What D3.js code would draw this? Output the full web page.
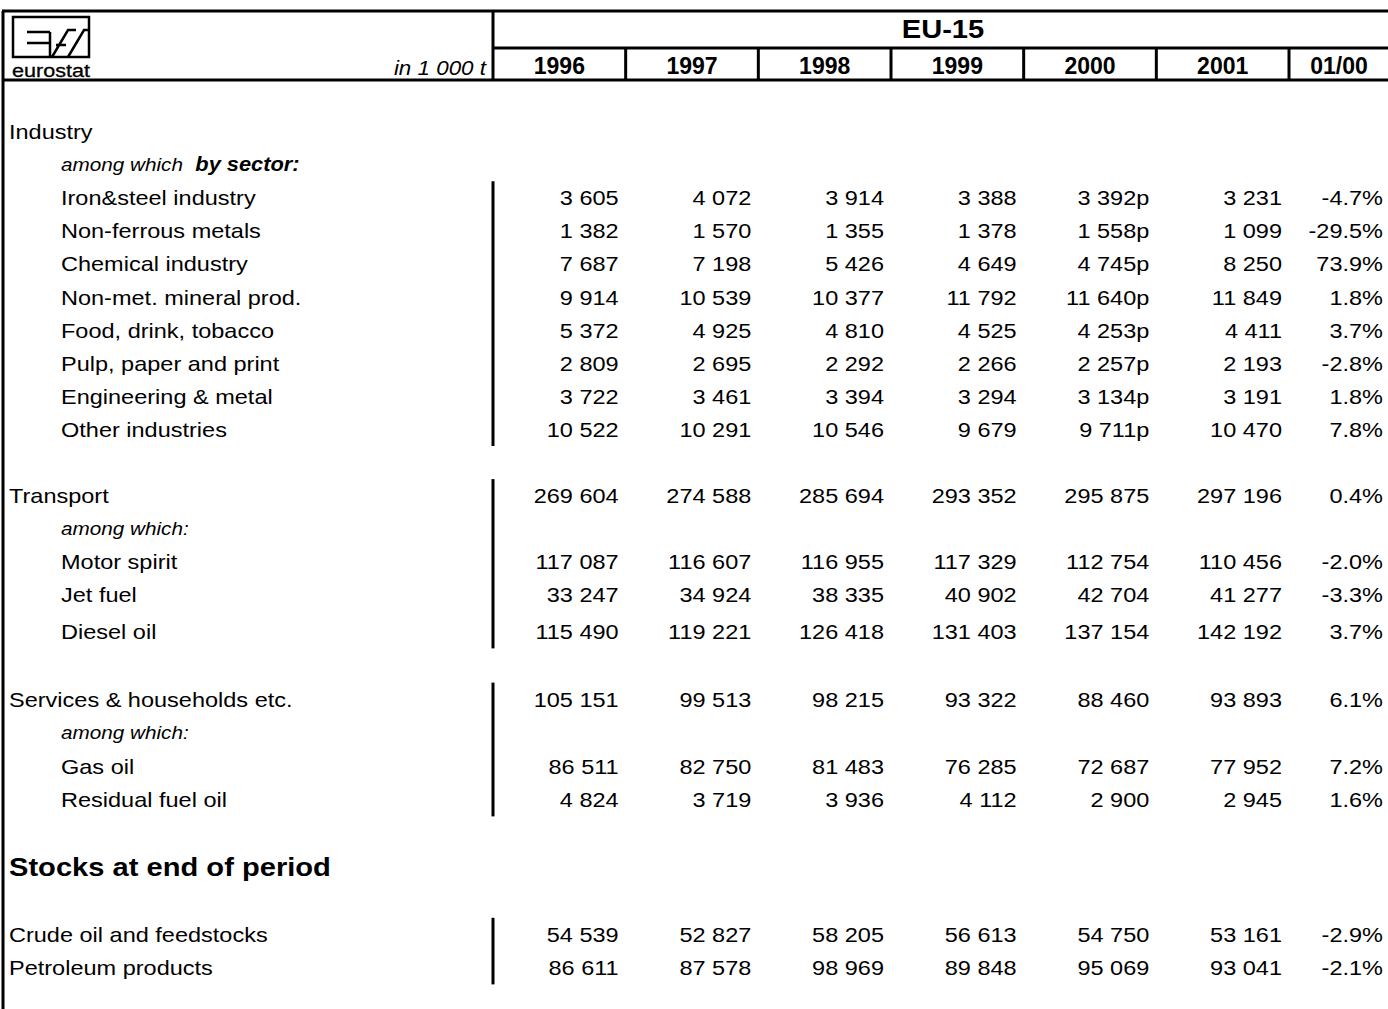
<!DOCTYPE html>
<html>
<head>
<meta charset="utf-8">
<script src="https://cdn.jsdelivr.net/npm/d3@7"></script>
<style>
  html, body { margin: 0; padding: 0; background: #fff; }
</style>
</head>
<body>
<div id="chart"></div>
<script>
// ── Table data (EU-15, in 1 000 t)
const years = ['1996', '1997', '1998', '1999', '2000', '2001'];
const changeLabel = '01/00';

const industryLabels = [
  'Iron&steel industry', 'Non-ferrous metals', 'Chemical industry', 'Non-met. mineral prod.',
  'Food, drink, tobacco', 'Pulp, paper and print', 'Engineering & metal', 'Other industries'
];
const industryValues = [
  [3605, 4072, 3914, 3388, 3392, 3231],
  [1382, 1570, 1355, 1378, 1558, 1099],
  [7687, 7198, 5426, 4649, 4745, 8250],
  [9914, 10539, 10377, 11792, 11640, 11849],
  [5372, 4925, 4810, 4525, 4253, 4411],
  [2809, 2695, 2292, 2266, 2257, 2193],
  [3722, 3461, 3394, 3294, 3134, 3191],
  [10522, 10291, 10546, 9679, 9711, 10470]
];
const industryChange = [-4.7, -29.5, 73.9, 1.8, 3.7, -2.8, 1.8, 7.8];
const industryProvisional = ['2000'];

const transportTotal = [269604, 274588, 285694, 293352, 295875, 297196];
const transportChange = 0.4;
const transportLabels = ['Motor spirit', 'Jet fuel', 'Diesel oil'];
const transportValues = [
  [117087, 116607, 116955, 117329, 112754, 110456],
  [33247, 34924, 38335, 40902, 42704, 41277],
  [115490, 119221, 126418, 131403, 137154, 142192]
];
const transportSubChange = [-2.0, -3.3, 3.7];

const servicesTotal = [105151, 99513, 98215, 93322, 88460, 93893];
const servicesChange = 6.1;
const servicesLabels = ['Gas oil', 'Residual fuel oil'];
const servicesValues = [
  [86511, 82750, 81483, 76285, 72687, 77952],
  [4824, 3719, 3936, 4112, 2900, 2945]
];
const servicesSubChange = [7.2, 1.6];

const stocksLabels = ['Crude oil and feedstocks', 'Petroleum products'];
const stocksValues = [
  [54539, 52827, 58205, 56613, 54750, 53161],
  [86611, 87578, 98969, 89848, 95069, 93041]
];
const stocksChange = [-2.9, -2.1];

// ── Layout
const W = 1388, H = 1009;
const SX = 1.12;                 // glyphs in the source are slightly wide
const FONT = 'Arial, "Liberation Sans", sans-serif';
const FRAME_L = 3, FRAME_T = 11, SUBHEAD_Y = 48, HEAD_B = 80;
const LABEL_R = 493;
const PCT_R = 1389;

const loc = d3.formatLocale({ decimal: '.', thousands: ' ', grouping: [3], currency: ['', ''], minus: '-' });
const fmtNum = loc.format(',d');
const fmtPct = v => loc.format('.1f')(v) + '%';

// Build row list from the arrays above
const rows = [];
rows.push({ label: 'Industry', kind: 'top' });
rows.push({ kind: 'note', note: 'among which', bold: 'by sector:' });
industryLabels.forEach((l, i) => rows.push({
  label: l, kind: 'sub', values: industryValues[i], change: industryChange[i],
  prov: industryProvisional, block: 'ind'
}));
rows.push({ kind: 'blank' });
rows.push({ label: 'Transport', kind: 'top', values: transportTotal, change: transportChange, block: 'tra' });
rows.push({ kind: 'note', note: 'among which:', block: 'tra' });
transportLabels.forEach((l, i) => rows.push({
  label: l, kind: 'sub', values: transportValues[i], change: transportSubChange[i], block: 'tra',
  tall: l === 'Diesel oil'
}));
rows.push({ kind: 'blank' });
rows.push({ label: 'Services & households etc.', kind: 'top', values: servicesTotal, change: servicesChange, block: 'ser' });
rows.push({ kind: 'note', note: 'among which:', block: 'ser' });
servicesLabels.forEach((l, i) => rows.push({
  label: l, kind: 'sub', values: servicesValues[i], change: servicesSubChange[i], block: 'ser'
}));
rows.push({ kind: 'blank' });
rows.push({ label: 'Stocks at end of period', kind: 'section' });
rows.push({ kind: 'blank' });
stocksLabels.forEach((l, i) => rows.push({
  label: l, kind: 'top', values: stocksValues[i], change: stocksChange[i], block: 'sto'
}));

// row centres: regular pitch, Diesel row a bit taller, slightly looser pitch afterwards
let yc = 131, after = false;
rows.forEach((r, i) => {
  if (i > 0) yc += r.tall ? 37 : (after ? 33.6 : 33.1);
  if (r.tall) after = true;
  r.y = yc;
});

// ── Scales
const x = d3.scaleBand().domain(years).range([LABEL_R, 1289]);
const xPct = d3.scaleBand().domain([changeLabel]).range([1289, PCT_R]);
const colRight = k => k === changeLabel ? xPct(k) + xPct.bandwidth() - 6 : x(k) + x.bandwidth() - 7;

const svg = d3.select('#chart').append('svg')
  .attr('width', W).attr('height', H)
  .style('display', 'block')
  .style('background', '#fff');

function txt(g, px, py, s, o = {}) {
  return g.append('text')
    .attr('transform', `translate(${px},${py}) scale(${o.sx || SX},1)`)
    .attr('text-anchor', o.anchor || 'start')
    .attr('font-family', FONT)
    .attr('font-size', (o.size || 21) + 'px')
    .attr('font-weight', o.weight || 'normal')
    .attr('font-style', o.style || 'normal')
    .attr('fill', '#000')
    .text(s);
}

const lines = svg.append('g').attr('stroke', '#000').attr('fill', 'none');

// ── Frame and header grid
lines.append('line').attr('x1', FRAME_L - 1).attr('x2', W).attr('y1', FRAME_T).attr('y2', FRAME_T).attr('stroke-width', 3);
lines.append('line').attr('x1', FRAME_L).attr('x2', FRAME_L).attr('y1', FRAME_T).attr('y2', H).attr('stroke-width', 3);
lines.append('line').attr('x1', FRAME_L - 1).attr('x2', W).attr('y1', HEAD_B).attr('y2', HEAD_B).attr('stroke-width', 3);
lines.append('line').attr('x1', LABEL_R).attr('x2', W).attr('y1', SUBHEAD_Y).attr('y2', SUBHEAD_Y).attr('stroke-width', 3);
lines.append('line').attr('x1', LABEL_R).attr('x2', LABEL_R).attr('y1', FRAME_T).attr('y2', HEAD_B).attr('stroke-width', 3);
years.slice(1).concat([changeLabel]).forEach(k => {
  const xx = k === changeLabel ? xPct(k) : x(k);
  lines.append('line').attr('x1', xx).attr('x2', xx).attr('y1', SUBHEAD_Y).attr('y2', HEAD_B).attr('stroke-width', 3);
});

// ── Logo (white tile with the eurostat mark)
const logo = svg.append('g');
logo.append('rect').attr('x', 9).attr('y', 13).attr('width', 83).attr('height', 65).attr('fill', '#fff');
logo.append('rect').attr('x', 13).attr('y', 17).attr('width', 76).attr('height', 40)
  .attr('fill', 'none').attr('stroke', '#000').attr('stroke-width', 2.5);
logo.append('path')
  .attr('d', 'M27,32H50M27,43H50M50,32V57M52,57L68,30H76M68,57L84,30H89M56,45H66')
  .attr('fill', 'none').attr('stroke', '#000').attr('stroke-width', 2.5);
txt(logo, 12, 77, 'eurostat', { size: 18, sx: 1.0 })
  .attr('textLength', 78).attr('lengthAdjust', 'spacingAndGlyphs')
  .attr('stroke', '#000').attr('stroke-width', 0.3);

// ── Header texts
txt(svg, 486, 75, 'in 1 000 t', { anchor: 'end', style: 'italic', size: 20 });
txt(svg, 943, 38, 'EU-15', { anchor: 'middle', weight: 'bold', size: 26 });
years.forEach(k => txt(svg, x(k) + x.bandwidth() / 2, 74, k, { anchor: 'middle', weight: 'bold', size: 23, sx: 1.0 }));
txt(svg, xPct(changeLabel) + xPct.bandwidth() / 2, 74, changeLabel, { anchor: 'middle', weight: 'bold', size: 23, sx: 1.0 });

// ── Body rows
const body = svg.append('g');
rows.forEach(r => {
  const base = r.y + 8;
  if (r.kind === 'blank') return;
  if (r.kind === 'section') {
    txt(body, 9, r.y + 9, r.label, { weight: 'bold', size: 26, sx: 1.12 });
    return;
  }
  if (r.kind === 'note') {
    const t = txt(body, 61, base - 1, r.note, { style: 'italic', size: 18.5 });
    if (r.bold) t.append('tspan').attr('dx', 11).attr('font-weight', 'bold').attr('font-size', '19.5px').text(r.bold);
    return;
  }
  txt(body, r.kind === 'top' ? 9 : 61, base, r.label);
  if (r.values) {
    years.forEach((k, j) => {
      const p = r.prov && r.prov.includes(k) ? 'p' : '';
      txt(body, colRight(k), base, fmtNum(r.values[j]) + p, { anchor: 'end' });
    });
    txt(body, colRight(changeLabel), base, fmtPct(r.change), { anchor: 'end' });
  }
});

// ── Vertical bars next to each block of figures
d3.groups(rows.filter(r => r.block), r => r.block).forEach(([, rs]) => {
  const ys = rs.map(r => r.y);
  lines.append('line')
    .attr('x1', LABEL_R).attr('x2', LABEL_R)
    .attr('y1', d3.min(ys) - 16).attr('y2', d3.max(ys) + 17)
    .attr('stroke-width', 3);
});
</script>
</body>
</html>
